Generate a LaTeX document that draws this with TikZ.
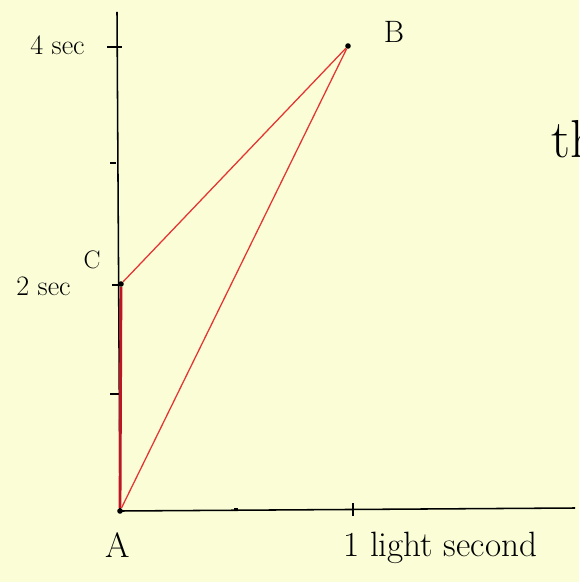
\documentclass[tikz,border=0pt]{standalone}
\usepackage{tikz}
\usetikzlibrary{positioning}
\definecolor{paper}{RGB}{250,253,214}
\definecolor{worldline}{RGB}{228,52,52}
\definecolor{restline}{RGB}{190,20,35}

\begin{document}
\begin{tikzpicture}[
    x=0.025cm, y=-0.025cm,
    dot/.style={circle, fill=black, inner sep=1.4pt},
    lbl/.style={font=\fontsize{20}{22}\selectfont, inner sep=0pt},
    ray/.style={worldline, line width=0.9pt},
    axis/.style={black, line width=1.1pt},
    tick/.style={black, line width=1pt},
]
  \fill[paper] (0,0) rectangle (579,582);
  \useasboundingbox (0,0) rectangle (579,582);
  \clip (0,0) rectangle (579,582);

  % events
  \node[dot] (ptA) at (120,511) {};
  \node[dot] (ptC) at (121,284) {};
  \node[dot] (ptB) at (348,46) {};
  \coordinate (ytop) at (117,12);
  \coordinate (xend) at (575,508);

  % axes and ticks
  \draw[axis] (ytop) -- (ptA.center) -- (xend);
  \draw[tick] (107,47) -- (122,47);
  \draw[tick] (110,163) -- (116,163);
  \draw[tick] (112,285) -- (121,285);
  \draw[tick] (110,394) -- (119,394);
  \draw[tick] (234,509) -- (238,509);
  \draw[tick] (353,503) -- (353,516);

  % labels
  \node[lbl, anchor=base west] (fourS) at (30,55) {4 sec};
  \node[lbl, anchor=base west] (twoS) at (16,295) {2 sec};
  \node[lbl, font=\fontsize{18}{20}\selectfont] (labC) at (92,260) {C};
  \node[lbl, font=\fontsize{22}{24}\selectfont] (labB) at (394,32) {B};
  \node[lbl, font=\fontsize{25}{27}\selectfont] (labA) at (118,545) {A};
  \node[lbl, font=\fontsize{25}{27}\selectfont, anchor=base west] (unit) at (343,556) {1 light second};
  \node[lbl, font=\fontsize{38}{40}\selectfont, anchor=base west] (cut) at (551,158) {th};

  % paths
  \draw[restline, line width=2pt] (ptA) -- (ptC);
  \draw[ray] (ptC) -- (ptB);
  \draw[ray] (ptA) -- (ptB);
\end{tikzpicture}
\end{document}
